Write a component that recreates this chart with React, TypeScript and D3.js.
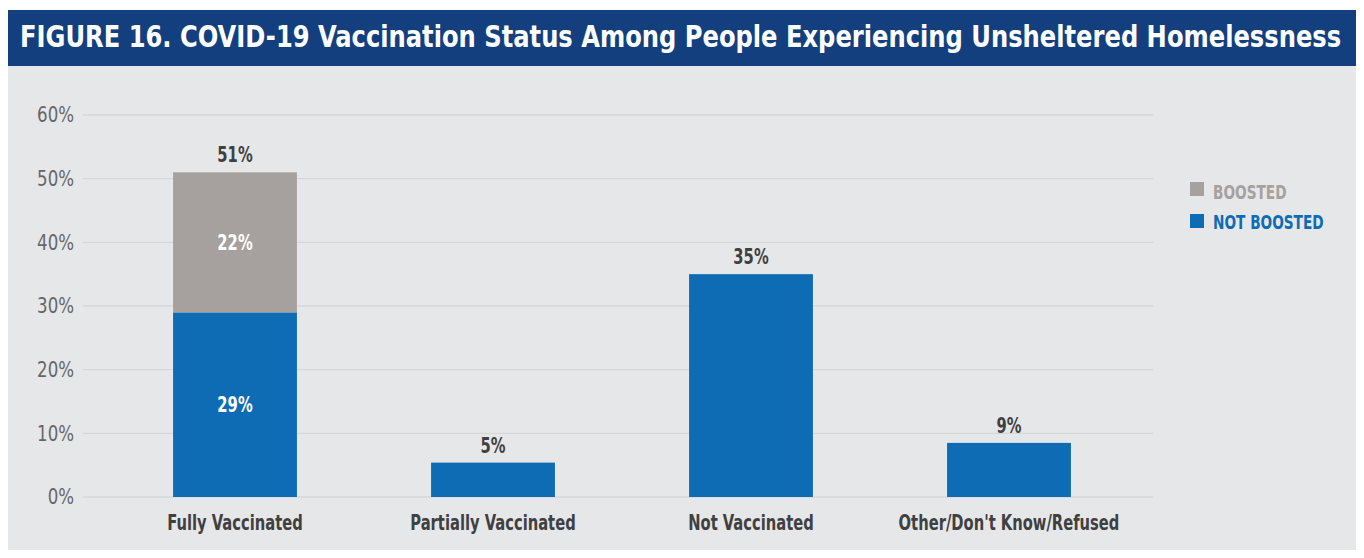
import React from "react";
import * as d3 from "d3";

const categories = ["Fully Vaccinated", "Partially Vaccinated", "Not Vaccinated", "Other/Don't Know/Refused"];
const notBoosted = [29, 5.4, 35, 8.5];
const boosted = [22, 0, 0, 0];
const totalLabels = ["51%", "5%", "35%", "9%"];
const notBoostedLabels = ["29%", "", "", ""];
const boostedLabels = ["22%", "", "", ""];
const yTicks = [0, 10, 20, 30, 40, 50, 60];
const seriesNames = ["BOOSTED", "NOT BOOSTED"];

const W = 1364;
const H = 558;
const BLUE = "#0e6cb5";
const GRAY = "#a6a19e";
const FONT = "'DejaVu Sans Condensed', 'DejaVu Sans', sans-serif";
const SX_BOLD = 0.78;
const SX_REG = 0.88;

function CText(props: {
  x: number; y: number; sx: number; anchor?: "start" | "middle" | "end"; fill: string; size: number;
  weight?: number; dy?: string; children: React.ReactNode;
}) {
  const { x, y, sx, anchor = "start", fill, size, weight = 400, dy, children } = props;
  return (
    <g transform={`translate(${x},${y}) scale(${sx},1)`}>
      <text x={0} y={0} dy={dy} textAnchor={anchor} fill={fill} fontFamily={FONT} fontWeight={weight} fontSize={size}>
        {children}
      </text>
    </g>
  );
}

export default function App() {
  const y = d3.scaleLinear().domain([0, 60]).range([497, 115]);
  const x = d3.scaleBand<string>().domain(categories).range([106, 1138]).paddingInner(0.52).paddingOuter(0.26);
  const bw = x.bandwidth();
  const stack = d3.stack<number>().keys(["nb", "b"]).value((i, k) => (k === "nb" ? notBoosted[i] : boosted[i]));
  const series = stack(categories.map((_, i) => i));
  const colors = [BLUE, GRAY];
  const inner = [notBoostedLabels, boostedLabels];

  return (
    <div style={{ margin: -8 }}>
      <svg width={W} height={H} style={{ display: "block" }}>
        <rect x={0} y={0} width={W} height={H} fill="#ffffff" />
        <rect x={6} y={66} width={W - 6} height={H - 66} fill="#e6e7e9" />
        <rect x={6} y={10} width={W - 6} height={56} fill="#133f7f" />
        <CText x={20} y={47} sx={0.868} fill="#ffffff" size={31} weight={700}>
          FIGURE 16. COVID-19 Vaccination Status Among People Experiencing Unsheltered Homelessness
        </CText>
        {yTicks.map((t) => (
          <g key={t}>
            <line x1={83} x2={1153} y1={y(t)} y2={y(t)} stroke="#d6d7d9" strokeWidth={1.3} />
            <CText x={74} y={y(t)} sx={SX_REG} dy="0.35em" anchor="end" fill="#666666" size={21}>
              {t}%
            </CText>
          </g>
        ))}
        {series.map((s, si) =>
          s.map((d, i) =>
            d[1] - d[0] > 0 ? (
              <g key={`${si}-${i}`}>
                <rect x={x(categories[i])} y={y(d[1])} width={bw} height={y(d[0]) - y(d[1])} fill={colors[si]} />
                {inner[si][i] ? (
                  <CText x={(x(categories[i]) as number) + bw / 2} y={(y(d[0]) + y(d[1])) / 2} sx={SX_BOLD} dy="0.35em"
                    anchor="middle" fill="#ffffff" weight={700} size={21}>
                    {inner[si][i]}
                  </CText>
                ) : null}
              </g>
            ) : null
          )
        )}
        {categories.map((c, i) => (
          <g key={c}>
            <CText x={(x(c) as number) + bw / 2} y={y(notBoosted[i] + boosted[i]) - 10} sx={SX_BOLD} anchor="middle"
              fill="#404040" weight={700} size={21}>
              {totalLabels[i]}
            </CText>
            <CText x={(x(c) as number) + bw / 2} y={530} sx={SX_BOLD} anchor="middle" fill="#404040" weight={700} size={21}>
              {c}
            </CText>
          </g>
        ))}
        {seriesNames.map((n, i) => (
          <g key={n}>
            <rect x={1190} y={182 + i * 32} width={14} height={14} fill={i === 0 ? GRAY : BLUE} />
            <CText x={1213} y={199 + i * 30} sx={0.76} fill={i === 0 ? GRAY : BLUE} weight={700} size={20}>
              {n}
            </CText>
          </g>
        ))}
      </svg>
    </div>
  );
}
